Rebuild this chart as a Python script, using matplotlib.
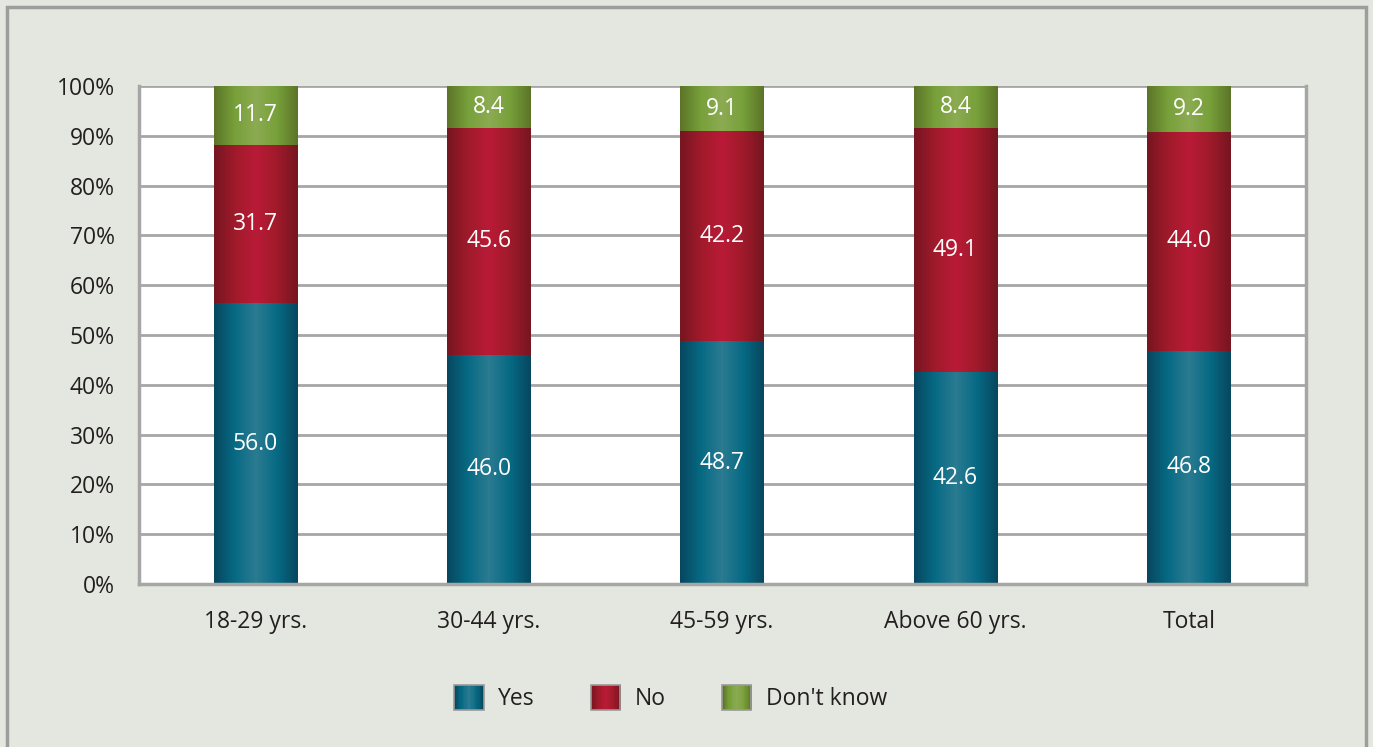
import numpy as np
import matplotlib
matplotlib.use("Agg")
import matplotlib.pyplot as plt
from matplotlib.colors import LinearSegmentedColormap
from matplotlib.patches import Rectangle
from matplotlib.legend_handler import HandlerBase

categories = ["18-29 yrs.", "30-44 yrs.", "45-59 yrs.", "Above 60 yrs.", "Total"]
yes = [56.0, 46.0, 48.7, 42.6, 46.8]
no = [31.7, 45.6, 42.2, 49.1, 44.0]
dont_know = [11.7, 8.4, 9.1, 8.4, 9.2]
series_names = ["Yes", "No", "Don't know"]
y_ticks = [0, 10, 20, 30, 40, 50, 60, 70, 80, 90, 100]

# dark edge -> mid -> light centre of each bar
palettes = {
    "Yes": ["#06475e", "#076a84", "#2b7b91"],
    "No": ["#751620", "#a01a2b", "#b91b36"],
    "Don't know": ["#5c7428", "#77a03a", "#8cab52"],
}
cmaps = {k: LinearSegmentedColormap.from_list(k, [v[0], v[1], v[2], v[1], v[0]])
         for k, v in palettes.items()}

bg = "#e4e7df"
txt = "#231f20"
fs = 16.5
plt.rcParams["font.family"] = ["Open Sans", "DejaVu Sans"]

fig = plt.figure(figsize=(13.73, 7.47), dpi=100, facecolor=bg)
ax = fig.add_axes([138.5 / 1373, 1 - 584 / 747, 1167 / 1373, 498 / 747])
ax.set_facecolor("white")

x = np.arange(len(categories))
width = 0.356
grad = np.linspace(0, 1, 256).reshape(1, -1)

data = np.array([yes, no, dont_know])
totals = data.sum(axis=0)
share = data / totals * 100

bottom = np.zeros(len(categories))
for name, vals, pct in zip(series_names, data, share):
    for i in range(len(categories)):
        ax.imshow(grad, cmap=cmaps[name], aspect="auto", zorder=3,
                  extent=[x[i] - width / 2, x[i] + width / 2, bottom[i], bottom[i] + pct[i]])
        ax.text(x[i], bottom[i] + pct[i] / 2, f"{vals[i]:.1f}", color="white",
                ha="center", va="center", fontsize=fs, zorder=4)
    bottom += pct

ax.set_xlim(-0.5, len(categories) - 0.5)
ax.set_ylim(0, 100)
ax.set_yticks(y_ticks)
ax.set_yticklabels([f"{t}%" for t in y_ticks])
ax.set_xticks(x)
ax.set_xticklabels(categories)
ax.tick_params(axis="both", length=0, labelsize=fs, labelcolor=txt)
ax.tick_params(axis="y", pad=17)
ax.tick_params(axis="x", pad=19)
ax.yaxis.grid(True, color="#a6a6a6", linewidth=2)
ax.set_axisbelow(True)
ax.spines["top"].set_visible(False)
for side in ["left", "bottom", "right"]:
    ax.spines[side].set_color("#a6a6a6")
    ax.spines[side].set_linewidth(2.5)
    ax.spines[side].set_zorder(5)


class GradientHandler(HandlerBase):
    def __init__(self, cmap):
        super().__init__()
        self.cmap = cmap

    def create_artists(self, legend, orig_handle, xdescent, ydescent, width, height, fontsize, trans):
        artists = []
        n = 24
        for k in range(n):
            c = self.cmap((k + 0.5) / n)
            artists.append(Rectangle((-xdescent + width * k / n, -ydescent), width / n + 0.3, height,
                                     facecolor=c, edgecolor="none", transform=trans))
        artists.append(Rectangle((-xdescent, -ydescent), width, height, facecolor="none",
                                 edgecolor="#9a9a9a", linewidth=1.2, transform=trans))
        return artists


handles = [Rectangle((0, 0), 1, 1) for _ in series_names]
fig.legend(handles, series_names, loc="center", bbox_to_anchor=(671 / 1373, 1 - 698 / 747),
           ncol=3, frameon=False, fontsize=fs, labelcolor=txt,
           handlelength=1.27, handleheight=1.27, handletextpad=0.65, columnspacing=2.45,
           handler_map={h: GradientHandler(cmaps[n]) for h, n in zip(handles, series_names)})

# outer frame
fig.patches.append(Rectangle((7 / 1373, -0.05), 1359 / 1373, 1.05 - 7 / 747, transform=fig.transFigure,
                             facecolor="none", edgecolor="#9d9d9d", linewidth=2.5))

fig.savefig("out.png", dpi=100, facecolor=bg)
